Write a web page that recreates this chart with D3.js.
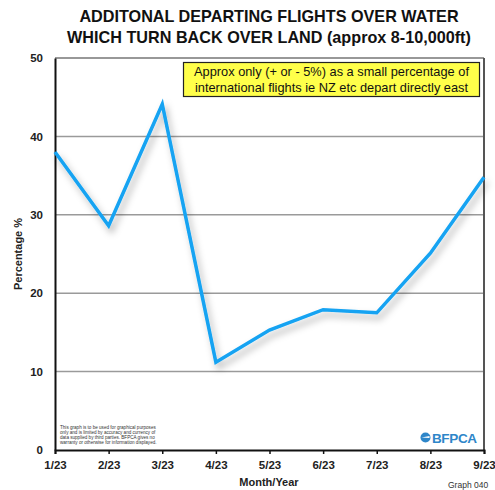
<!DOCTYPE html>
<html>
<head>
<meta charset="utf-8">
<script src="https://cdn.jsdelivr.net/npm/d3@7"></script>
<style>
  html, body { margin: 0; padding: 0; background: #fff; }
  svg { display: block; font-family: "Liberation Sans", Arial, Helvetica, sans-serif; }
</style>
</head>
<body>
<svg id="chart" width="495" height="490"></svg>
<script>
// Monthly share of departing flights over water that turn back over land
const months = ["1/23", "2/23", "3/23", "4/23", "5/23", "6/23", "7/23", "8/23", "9/23"];
const percentages = [38, 28.6, 44.1, 11.2, 15.3, 17.9, 17.5, 25.1, 34.8];
const yTicks = [0, 10, 20, 30, 40, 50];
const titleLines = ["ADDITONAL DEPARTING FLIGHTS OVER WATER", "WHICH TURN BACK OVER LAND (approx 8-10,000ft)"];
const noteLines = ["Approx only (+ or - 5%) as a small percentage of", "international flights ie NZ etc depart directly east"];
const disclaimerLines = [
  "This graph is to be used for graphical purposes",
  "only and is limited by accuracy and currency of",
  "data supplied by third parties. BFPCA gives no",
  "warranty or otherwise for information displayed."
];

const svg = d3.select("#chart");
const plot = { left: 55, right: 484, top: 58, bottom: 450 };

const x = d3.scalePoint().domain(months).range([plot.left, plot.right]);
const y = d3.scaleLinear().domain([0, 50]).range([plot.bottom, plot.top]);

// drop shadow under the series line
const defs = svg.append("defs");
const f = defs.append("filter").attr("id", "shadow")
  .attr("x", "-10%").attr("y", "-10%").attr("width", "130%").attr("height", "130%");
f.append("feDropShadow").attr("dx", 3).attr("dy", 5).attr("stdDeviation", 3.5)
  .attr("flood-color", "#000").attr("flood-opacity", 0.3);

// title
svg.append("g").selectAll("text").data(titleLines).join("text")
  .attr("x", 269).attr("y", (d, i) => 22 + i * 21)
  .attr("text-anchor", "middle")
  .attr("font-size", 16.2).attr("font-weight", "bold").attr("fill", "#111")
  .text(d => d);

// horizontal gridlines
svg.append("g").selectAll("line").data(yTicks.filter(t => t > 0 && t < 50)).join("line")
  .attr("x1", plot.left).attr("x2", plot.right)
  .attr("y1", d => y(d)).attr("y2", d => y(d))
  .attr("stroke", "#9a9a9a").attr("stroke-width", 1.5);

// top and right frame
svg.append("line").attr("x1", plot.left).attr("x2", plot.right)
  .attr("y1", plot.top).attr("y2", plot.top)
  .attr("stroke", "#333").attr("stroke-width", 1.2);
svg.append("line").attr("x1", plot.right).attr("x2", plot.right)
  .attr("y1", plot.top).attr("y2", plot.bottom)
  .attr("stroke", "#555").attr("stroke-width", 2);

// y axis
const yAxis = svg.append("g").attr("transform", `translate(${plot.left},0)`)
  .call(d3.axisLeft(y).tickValues(yTicks).tickSize(0).tickPadding(12));
yAxis.select(".domain").attr("stroke", "#111").attr("stroke-width", 2);
yAxis.selectAll("text").attr("font-size", 11.5).attr("font-weight", "bold")
  .attr("fill", "#222").attr("font-family", "Liberation Sans, Arial, sans-serif");

// x axis
const xAxis = svg.append("g").attr("transform", `translate(0,${plot.bottom})`)
  .call(d3.axisBottom(x).tickSize(4).tickPadding(7));
xAxis.select(".domain").attr("stroke", "#111").attr("stroke-width", 2);
xAxis.selectAll(".tick line").attr("stroke", "#111").attr("stroke-width", 1.5);
xAxis.selectAll("text").attr("font-size", 11.5).attr("font-weight", "bold")
  .attr("fill", "#222").attr("font-family", "Liberation Sans, Arial, sans-serif");

// axis titles
svg.append("text").attr("x", 269).attr("y", 486).attr("text-anchor", "middle")
  .attr("font-size", 11).attr("font-weight", "bold").attr("fill", "#222").text("Month/Year");
svg.append("text").attr("transform", `translate(22,${(plot.top + plot.bottom) / 2}) rotate(-90)`)
  .attr("text-anchor", "middle").attr("font-size", 11).attr("font-weight", "bold")
  .attr("fill", "#222").text("Percentage %");

// note box
const note = svg.append("g");
note.append("rect").attr("x", 183.5).attr("y", 62.5).attr("width", 296).attr("height", 34)
  .attr("fill", "#ffff4a").attr("stroke", "#222").attr("stroke-width", 1.2);
note.selectAll("text").data(noteLines).join("text")
  .attr("x", 331.5).attr("y", (d, i) => 76 + i * 16)
  .attr("text-anchor", "middle").attr("font-size", 12.8).attr("fill", "#111")
  .text(d => d);

// series line
const line = d3.line().x((d, i) => x(months[i])).y(d => y(d));
svg.append("path").datum(percentages)
  .attr("d", line)
  .attr("fill", "none").attr("stroke", "#14a3f2").attr("stroke-width", 3.5)
  .attr("stroke-linejoin", "miter").attr("filter", "url(#shadow)");

// disclaimer
svg.append("g").selectAll("text").data(disclaimerLines).join("text")
  .attr("x", 60).attr("y", (d, i) => 429 + i * 5)
  .attr("font-size", 4.6).attr("fill", "#333").text(d => d);

// logo
const logo = svg.append("g").attr("fill", "#2e86c9");
logo.append("circle").attr("cx", 425.5).attr("cy", 437.5).attr("r", 5);
logo.append("path").attr("d", "M421.5,437.5 L429.5,436 L429.5,438 Z").attr("fill", "#fff");
logo.append("text").attr("x", 432).attr("y", 442.5).attr("font-size", 13.5)
  .attr("font-weight", "bold").attr("textLength", 45).text("BFPCA");

// graph id
svg.append("text").attr("x", 448).attr("y", 488).attr("font-size", 8.5).attr("fill", "#333").text("Graph 040");
</script>
</body>
</html>
